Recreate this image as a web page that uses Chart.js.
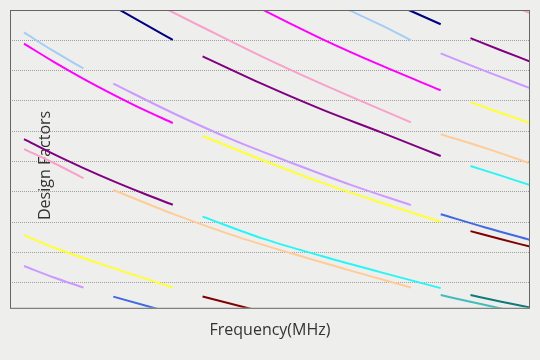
<!DOCTYPE html>
<html>
<head>
<meta charset="utf-8">
<script src="https://cdn.jsdelivr.net/npm/chart.js@4/dist/chart.umd.min.js"></script>
<style>
  html, body { margin: 0; padding: 0; background: #eeeeec; }
  canvas { display: block; }
</style>
</head>
<body>
<canvas id="c" width="540" height="360"></canvas>
<script>
// Axis texts
const xTitle = 'Frequency(MHz)';
const yTitle = 'Design Factors';

// Axis bounds (frequency index / design factor units)
const xRange = [-0.47, 17];
const yRange = [-0.83, 9];

// Each series: list of segments, each segment a list of [frequency, factor] points
const navy      = [[[3, 9.12], [4, 8.57], [5, 8.01]], [[12, 9.4], [14, 8.53]]];
const pink      = [[[0, 4.41], [1, 3.95], [2, 3.45]], [[4, 9.42], [6, 8.43], [8, 7.46], [10, 6.56], [13, 5.29]], [[15, 9.7], [17, 8.9]]];
const magenta   = [[[0, 7.89], [1, 7.29], [2, 6.73], [3, 6.21], [4, 5.72], [5, 5.27]], [[7, 9.54], [8, 9.02], [10, 8.05], [12, 7.17], [14, 6.35]]];
const lightBlue = [[[0, 8.26], [1, 7.64], [2, 7.07]], [[10, 9.42], [11, 8.96], [12, 8.50], [13, 8.0]]];
const purple    = [[[0, 4.74], [1, 4.24], [2, 3.78], [3, 3.35], [4, 2.95], [5, 2.57]], [[6, 7.47], [8, 6.56], [10, 5.72], [12, 4.96], [14, 4.18]], [[15, 8.07], [16, 7.68], [17, 7.30]]];
const lavender  = [[[0, 0.55], [1, 0.17], [2, -0.16]], [[3, 6.57], [5, 5.60], [7, 4.72], [9, 3.95], [11, 3.22], [13, 2.56]], [[14, 7.57], [15.5, 6.98], [17, 6.42]]];
const yellow    = [[[0, 1.57], [1, 1.16], [3, 0.48], [5, -0.16]], [[6, 4.84], [8, 4.05], [10, 3.30], [12, 2.64], [14, 2.01]], [[15, 5.96], [16, 5.61], [17, 5.27]]];
const peach     = [[[3, 3.06], [5, 2.27], [7, 1.57], [9, 0.96], [11, 0.39], [13, -0.16]], [[14, 4.90], [15.5, 4.44], [17, 3.94]]];
const cyan      = [[[6, 2.18], [8, 1.46], [10, 0.88], [12, 0.34], [14, -0.18]], [[15, 3.85], [16, 3.54], [17, 3.22]]];
const royalBlue = [[[3, -0.46], [5, -1.01]], [[14, 2.26], [15.5, 1.82], [17, 1.41]]];
const maroon    = [[[6, -0.46], [8, -0.96]], [[15, 1.70], [16, 1.44], [17, 1.19]]];
const tealLight = [[[14, -0.41], [15.5, -0.74], [17, -1.06]]];
const tealDark  = [[[15, -0.41], [16, -0.62], [17, -0.82]]];

const seriesList   = [navy, pink, magenta, lightBlue, purple, lavender, yellow, peach, cyan, royalBlue, maroon, tealLight, tealDark];
const seriesColors = ['#000080', '#f7a1cb', '#ff00ff', '#a3cdf7', '#800080', '#cc99ff', '#ffff33', '#ffcc99', '#2af5f5', '#4169e1', '#800000', '#40bdbd', '#107a7a'];

const datasets = [];
seriesList.forEach((segs, i) => {
  segs.forEach(seg => {
    datasets.push({
      data: seg.map(p => ({x: p[0], y: p[1]})),
      borderColor: seriesColors[i],
      borderWidth: 2,
      pointRadius: 0,
      fill: false,
      cubicInterpolationMode: 'monotone',
      clip: 0
    });
  });
});

const titleFont = '16px "Open Sans"';

// Y title sits inside the plot, slightly below its centre, as in the reference
const yTitlePlugin = {
  id: 'yTitleInside',
  beforeDatasetsDraw(chart) {
    const {ctx, chartArea: {left, top, bottom}} = chart;
    ctx.save();
    ctx.translate(left + 35, (top + bottom) / 2 + 6.5);
    ctx.rotate(-Math.PI / 2);
    ctx.font = titleFont;
    ctx.fillStyle = '#333333';
    ctx.textAlign = 'center';
    ctx.textBaseline = 'middle';
    ctx.fillText(yTitle, 0, 0);
    ctx.restore();
  }
};

const boxPlugin = {
  id: 'box',
  afterDatasetsDraw(chart) {
    const {ctx, chartArea: {left, top, right, bottom}} = chart;
    ctx.save();
    ctx.strokeStyle = '#666666';
    ctx.lineWidth = 1;
    ctx.strokeRect(left + 0.5, top + 0.5, right - left - 1, bottom - top);
    ctx.restore();
  }
};

new Chart(document.getElementById('c'), {
  type: 'line',
  data: { datasets },
  plugins: [yTitlePlugin, boxPlugin],
  options: {
    responsive: false,
    animation: false,
    layout: { padding: { left: 10, right: 10, top: 10, bottom: 20 } },
    plugins: { legend: { display: false }, tooltip: { enabled: false } },
    scales: {
      x: {
        type: 'linear',
        min: xRange[0], max: xRange[1],
        ticks: { display: false },
        grid: { display: false, drawTicks: false },
        border: { display: false },
        title: { display: true, text: xTitle, color: '#333333',
                 font: { family: 'Open Sans', size: 16, lineHeight: 1.2 },
                 padding: { top: 13, bottom: 0 } }
      },
      y: {
        type: 'linear',
        min: yRange[0], max: yRange[1],
        afterFit: s => { s.width = 0; },
        ticks: { display: false, stepSize: 1, includeBounds: false },
        grid: { display: true, drawTicks: false, color: '#a0a0a0', lineWidth: 1 },
        border: { display: false, dash: [1, 1] },
        title: { display: false }
      }
    }
  }
});
</script>
</body>
</html>
